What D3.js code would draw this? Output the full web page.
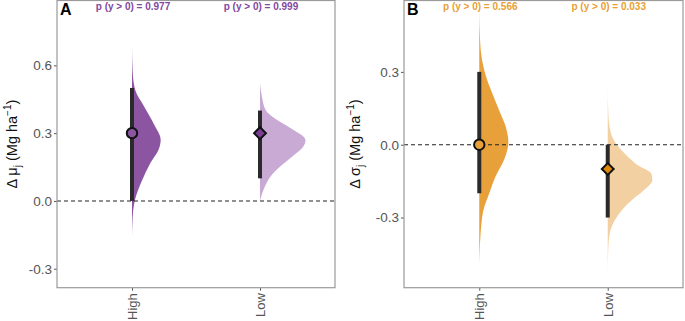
<!DOCTYPE html>
<html>
<head>
<meta charset="utf-8">
<script src="https://cdn.jsdelivr.net/npm/d3@7"></script>
<style>
  body { margin: 0; background: #fff; }
  svg { font-family: "Liberation Sans", Arial, sans-serif; display: block; }
</style>
</head>
<body>
<div id="chart"></div>
<script>
// categories and labels
const groups = ['High', 'Low'];
const panelLetters = ['A', 'B'];
const probLabelsA = ['p (y > 0) = 0.977', 'p (y > 0) = 0.999'];
const probLabelsB = ['p (y > 0) = 0.566', 'p (y > 0) = 0.033'];
const ticksA = [-0.3, 0.0, 0.3, 0.6];
const ticksB = [-0.3, 0.0, 0.3];

// point estimates and intervals
const pointA = [0.30, 0.30];
const lowerA = [0.00, 0.10];
const upperA = [0.50, 0.40];
const pointB = [0.00, -0.10];
const lowerB = [-0.20, -0.30];
const upperB = [0.30, 0.00];

// posterior density outlines: value and relative density
const densValHighA = [0.68, 0.57, 0.49, 0.42, 0.34, 0.27, 0.23, 0.17, 0.09, 0.00, -0.07, -0.16];
const densHighA    = [0, 0.015, 0.073, 0.26, 0.48, 0.63, 0.59, 0.41, 0.22, 0.06, 0.015, 0];
const densValLowA  = [0.52, 0.46, 0.40, 0.36, 0.315, 0.27, 0.24, 0.20, 0.15, 0.11, 0.06, 0.00];
const densLowA     = [0, 0.044, 0.13, 0.36, 0.73, 1.0, 0.95, 0.73, 0.43, 0.24, 0.10, 0];
const densValHighB = [0.56, 0.42, 0.35, 0.28, 0.21, 0.14, 0.075, 0.01, -0.06, -0.13, -0.20, -0.27, -0.34, -0.41, -0.49];
const densHighB    = [0, 0.02, 0.06, 0.15, 0.29, 0.44, 0.58, 0.64, 0.55, 0.36, 0.22, 0.09, 0.04, 0.015, 0];
const densValLowB  = [0.23, 0.12, 0.05, 0.01, -0.03, -0.08, -0.12, -0.145, -0.19, -0.23, -0.27, -0.31, -0.36, -0.42, -0.53];
const densLowB     = [0, 0.015, 0.066, 0.16, 0.34, 0.63, 0.96, 0.98, 0.78, 0.52, 0.31, 0.16, 0.05, 0.015, 0];

const W = 685, H = 321;
const svg = d3.select('#chart').append('svg')
    .attr('width', W)
    .attr('height', H);

const panels = [
    {
        letter: panelLetters[0], left: 57, right: 335, domain: [-0.384, 0.887], ticks: ticksA,
        probs: probLabelsA, point: pointA, lower: lowerA, upper: upperA,
        dens: [[densValHighA, densHighA], [densValLowA, densLowA]],
        slabFill: ['#8c55a2', '#c9aad4'], pointFill: ['#8c55a2', '#7b3d96'],
        shapes: ['circle', 'diamond'], textColor: '#8347a0',
        greek: 'μ', titleX: 12
    },
    {
        letter: panelLetters[1], left: 404, right: 683, domain: [-0.589, 0.594], ticks: ticksB,
        probs: probLabelsB, point: pointB, lower: lowerB, upper: upperB,
        dens: [[densValHighB, densHighB], [densValLowB, densLowB]],
        slabFill: ['#e8a03a', '#f3d0a2'], pointFill: ['#e8a03a', '#e08a0c'],
        shapes: ['circle', 'diamond'], textColor: '#e89f35',
        greek: 'σ', titleX: 355
    }
];

const plotTop = 0.5, plotBottom = 287.7;

panels.forEach(p => {
    const g = svg.append('g');

    const x = d3.scalePoint()
        .domain(groups)
        .range([p.left, p.right])
        .padding(0.586);

    const y = d3.scaleLinear()
        .domain(p.domain)
        .range([plotBottom, plotTop]);

    const w = d3.scaleLinear().domain([0, 1]).range([0, 45.5]);

    // y axis ticks and labels
    const yAxis = g.append('g')
        .attr('transform', `translate(${p.left},0)`)
        .call(d3.axisLeft(y).tickValues(p.ticks).tickFormat(d3.format('.1f')).tickSize(3).tickPadding(2));
    yAxis.select('.domain').remove();
    yAxis.selectAll('line').attr('stroke', '#555');
    yAxis.selectAll('text').attr('fill', '#555').attr('font-size', 13.5)
        .text(d => d < 0 ? '-' + Math.abs(d).toFixed(1) : d.toFixed(1));

    // x axis ticks and labels
    const xAxis = g.append('g')
        .attr('transform', `translate(0,${plotBottom})`)
        .call(d3.axisBottom(x).tickSize(3).tickPadding(2));
    xAxis.select('.domain').remove();
    xAxis.selectAll('line').attr('stroke', '#555');
    xAxis.selectAll('text')
        .attr('fill', '#555')
        .attr('font-size', 13)
        .attr('transform', 'rotate(-90)')
        .attr('text-anchor', 'end')
        .attr('x', -5.5)
        .attr('y', 0)
        .attr('dy', '0.35em');

    // slabs
    const area = d3.area()
        .curve(d3.curveMonotoneY);
    p.dens.forEach((dd, i) => {
        const pts = dd[0].map((v, k) => ({ v: v, d: dd[1][k] }));
        const cx = x(groups[i]);
        g.append('path')
            .datum(pts)
            .attr('fill', p.slabFill[i])
            .attr('d', area.y(d => y(d.v)).x0(cx).x1(d => cx + w(d.d)));
    });

    // reference line at zero
    g.append('line')
        .attr('x1', p.left).attr('x2', p.right)
        .attr('y1', y(0)).attr('y2', y(0))
        .attr('stroke', '#222')
        .attr('stroke-width', 1.1)
        .attr('stroke-dasharray', '4,3');

    // intervals
    g.selectAll('.interval')
        .data(groups)
        .enter()
        .append('line')
        .attr('x1', d => x(d)).attr('x2', d => x(d))
        .attr('y1', (d, i) => y(p.lower[i]))
        .attr('y2', (d, i) => y(p.upper[i]))
        .attr('stroke', '#2a2a2a')
        .attr('stroke-width', 4);

    // point estimates
    groups.forEach((grp, i) => {
        const isCircle = p.shapes[i] === 'circle';
        g.append('path')
            .attr('transform', `translate(${x(grp)},${y(p.point[i])})` + (isCircle ? '' : ' rotate(45)'))
            .attr('d', d3.symbol().type(isCircle ? d3.symbolCircle : d3.symbolSquare).size(isCircle ? 85 : 70)())
            .attr('fill', p.pointFill[i])
            .attr('stroke', '#111')
            .attr('stroke-width', 2);
    });

    // probability labels
    g.selectAll('.prob')
        .data(groups)
        .enter()
        .append('text')
        .attr('x', d => x(d) + 1)
        .attr('y', 9.5)
        .attr('text-anchor', 'middle')
        .attr('font-size', 10)
        .attr('font-weight', 'bold')
        .attr('fill', p.textColor)
        .text((d, i) => p.probs[i]);

    // panel border
    g.append('rect')
        .attr('x', p.left).attr('y', plotTop)
        .attr('width', p.right - p.left).attr('height', plotBottom - plotTop)
        .attr('fill', 'none')
        .attr('stroke', '#9a9a9a')
        .attr('stroke-width', 1.2);

    // panel letter
    g.append('text')
        .attr('x', p.left + 3)
        .attr('y', 15)
        .attr('font-size', 16)
        .attr('font-weight', 'bold')
        .attr('fill', '#000')
        .text(p.letter);

    // y axis title
    const t = g.append('text')
        .attr('transform', `translate(${p.titleX + 5},${(plotTop + plotBottom) / 2}) rotate(-90)`)
        .attr('text-anchor', 'middle')
        .attr('font-size', 14.5)
        .attr('fill', '#111');
    t.append('tspan').text('Δ ' + p.greek);
    t.append('tspan').attr('font-size', 10).attr('dy', 4).text('j');
    t.append('tspan').attr('dy', -4).text(' (Mg ha');
    t.append('tspan').attr('font-size', 10).attr('dy', -6).text('−1');
    t.append('tspan').attr('dy', 6).text(')');
});
</script>
</body>
</html>
